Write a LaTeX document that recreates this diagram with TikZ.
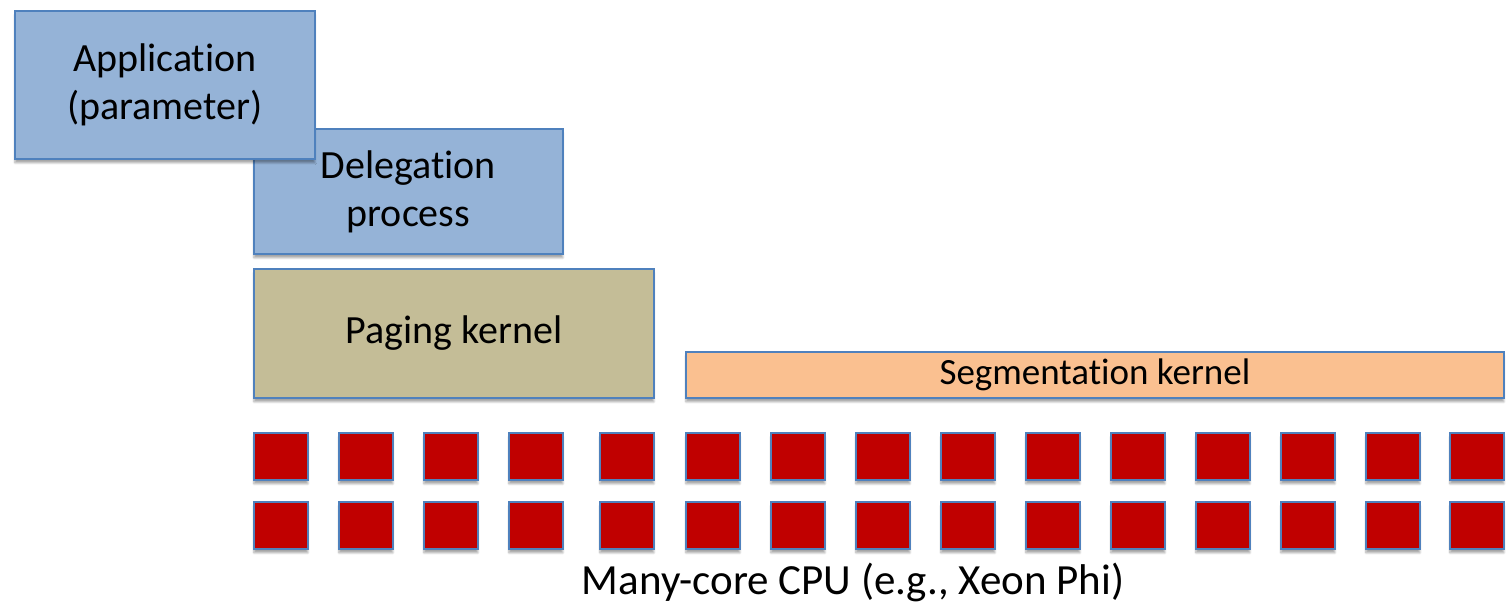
\documentclass[tikz,border=0pt]{standalone}
\usepackage{fontspec}
\setmainfont[Ligatures={NoCommon,NoRequired,NoContextual}]{Carlito}
\usetikzlibrary{shadows.blur}
\definecolor{layerblue}{HTML}{95B3D7}
\definecolor{edgeblue}{HTML}{4F81BD}
\definecolor{pagingfill}{HTML}{C4BD97}
\definecolor{segfill}{HTML}{FAC090}
\definecolor{corered}{HTML}{C00000}
\tikzset{
  layer/.style={draw=edgeblue, line width=1.8pt, anchor=north west, inner sep=0pt,
    align=center, font=\fontsize{40}{48}\selectfont,
    blur shadow={shadow xshift=0pt, shadow yshift=-4pt, shadow blur steps=6, shadow opacity=35}},
  core/.style={draw=edgeblue, line width=1.8pt, fill=corered, anchor=north west,
    minimum width=54pt, minimum height=47pt, inner sep=0pt,
    blur shadow={shadow xshift=0pt, shadow yshift=-4pt, shadow blur steps=6, shadow opacity=35}}
}
\begin{document}
\begin{tikzpicture}[x=1pt, y=-1pt]
  \useasboundingbox (0,0) rectangle (1509,603);
  % software layers
  \node[layer, fill=layerblue, minimum width=309pt, minimum height=125pt] (deleg) at (253,128) {Delegation\\process};
  \node[layer, fill=layerblue, minimum width=300pt, minimum height=148pt] (app) at (14,10) {Application\\(parameter)};
  \node[layer, fill=pagingfill, minimum width=400pt, minimum height=129pt] (paging) at (253,268) {Paging kernel};
  \node[layer, fill=segfill, minimum width=818pt, minimum height=46pt,
        font=\fontsize{37}{44}\selectfont] (seg) at (685,351) {Segmentation kernel};
  % cores, two rows
  \foreach \cx [count=\i] in {253,338,423,508,599,685,770,855,940,1025,1110,1195,1280,1365,1449} {
    \node[core] (ca\i) at (\cx,432) {};
    \node[core] (cb\i) at (\cx,501) {};
  }
  \node[anchor=base, font=\fontsize{43}{50}\selectfont, inner sep=0pt] (cpu) at (853,594) {Many-core CPU (e.g., Xeon Phi)};
\end{tikzpicture}
\end{document}
